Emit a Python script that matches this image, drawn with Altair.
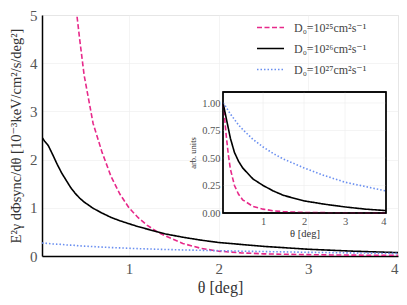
import altair as alt
import pandas as pd

# ---- data ----
series = ["D₀=10²⁵cm²s⁻¹", "D₀=10²⁶cm²s⁻¹", "D₀=10²⁷cm²s⁻¹"]
colors = ["#e7298a", "#000000", "#6a8ff0"]
dashes = [[5, 2.5], [1, 0], [1.5, 2]]

theta = [0.03, 0.06, 0.1, 0.15, 0.2, 0.25, 0.3, 0.35, 0.4, 0.45, 0.5, 0.6, 0.7, 0.8, 0.9, 1.0,
         1.1, 1.2, 1.3, 1.4, 1.6, 1.8, 2.0, 2.25, 2.5, 2.75, 3.0, 3.25, 3.5, 3.75, 4.0]
d25 = [30, 26, 21, 16, 12.3, 9.8, 7.9, 6.5, 5.3, 4.5, 3.75, 2.75, 2.15, 1.65, 1.28, 1.0,
       0.80, 0.64, 0.52, 0.42, 0.26, 0.16, 0.10, 0.065, 0.045, 0.035, 0.028, 0.022, 0.018, 0.015, 0.012]
d26 = [2.46, 2.38, 2.29, 2.1, 1.9, 1.72, 1.57, 1.42, 1.3, 1.2, 1.12, 0.99, 0.89, 0.80, 0.73, 0.67,
       0.61, 0.56, 0.51, 0.46, 0.39, 0.33, 0.28, 0.24, 0.20, 0.17, 0.14, 0.12, 0.10, 0.085, 0.07]
d27 = [0.27, 0.265, 0.26, 0.25, 0.245, 0.24, 0.23, 0.225, 0.22, 0.21, 0.205, 0.195, 0.185, 0.175, 0.168, 0.16,
       0.153, 0.147, 0.141, 0.136, 0.126, 0.118, 0.11, 0.1, 0.092, 0.085, 0.076, 0.07, 0.064, 0.059, 0.054]

inset_theta = [0.02, 0.05, 0.1, 0.15, 0.2, 0.3, 0.4, 0.5, 0.75, 1.0, 1.25, 1.5, 2.0, 2.5, 3.0, 3.5, 4.0]
inset25 = [1.0, 0.9, 0.7, 0.53, 0.4, 0.25, 0.17, 0.12, 0.06, 0.035, 0.02, 0.012, 0.005, 0.003, 0.002, 0.001, 0.001]
inset26 = [1.0, 0.95, 0.86, 0.77, 0.68, 0.55, 0.47, 0.41, 0.31, 0.25, 0.2, 0.16, 0.11, 0.08, 0.055, 0.035, 0.022]
inset27 = [1.0, 0.99, 0.96, 0.93, 0.90, 0.85, 0.80, 0.76, 0.67, 0.60, 0.54, 0.49, 0.41, 0.34, 0.28, 0.24, 0.20]

main_x_ticks = [1, 2, 3, 4]
main_y_ticks = [0, 1, 2, 3, 4, 5]
inset_x_ticks = [1, 2, 3, 4]
inset_y_ticks = [0, 0.25, 0.5, 0.75, 1.0]
inset_x_domain = [0.02, 4]
inset_y_domain = [0, 1.1]

# ---- tables ----
main_df = pd.DataFrame({
    "theta": theta * 3,
    "value": d25 + d26 + d27,
    "series": [series[0]] * len(theta) + [series[1]] * len(theta) + [series[2]] * len(theta),
})
inset_df = pd.DataFrame({
    "theta": inset_theta * 3,
    "value": inset25 + inset26 + inset27,
    "series": [series[0]] * len(inset_theta) + [series[1]] * len(inset_theta) + [series[2]] * len(inset_theta),
})
box_df = pd.DataFrame({"x": [inset_x_domain[0]], "x2": [inset_x_domain[1]],
                       "y": [inset_y_domain[0]], "y2": [inset_y_domain[1]]})
xgrid_df = pd.DataFrame({"g": inset_x_ticks[:-1]})
ygrid_df = pd.DataFrame({"g": inset_y_ticks[1:]})

SERIF = "'Liberation Serif', 'Times New Roman', 'DejaVu Serif', serif"
W, H = 356, 241
INSET_X_RANGE = [181, 344]
INSET_Y_RANGE = [198, 77]

legend = alt.Legend(
    title=None, orient="none", legendX=214, legendY=-2,
    symbolType="stroke", symbolSize=729, symbolStrokeWidth=1.6,
    labelFont=SERIF, labelFontSize=12, labelColor="#444444",
    rowPadding=-9, labelOffset=9,
)
color = alt.Color("series:N", scale=alt.Scale(domain=series, range=colors), legend=legend)
dash = alt.StrokeDash("series:N", scale=alt.Scale(domain=series, range=dashes), legend=legend)

main = alt.Chart(main_df).mark_line(strokeWidth=1.6, clip=True).encode(
    x=alt.X("theta:Q", scale=alt.Scale(domain=[0.03, 4], nice=False, zero=False),
            axis=alt.Axis(title="θ [deg]", values=main_x_ticks, format="d", grid=True,
                          gridColor="#ececec", gridWidth=0.6, ticks=False,
                          labelFont=SERIF, labelFontSize=15, labelColor="#555555", labelPadding=5,
                          titleFont=SERIF, titleFontSize=16, titleFontWeight="normal",
                          titleColor="#333333", titlePadding=3,
                          domainColor="#000000", domainWidth=1.5)),
    y=alt.Y("value:Q", scale=alt.Scale(domain=[0, 5], nice=False),
            axis=alt.Axis(title="E²γ dΦsync/dθ [10⁻³keV/cm²/s/deg²]", values=main_y_ticks,
                          format="d", grid=True, gridColor="#ececec", gridWidth=0.6, ticks=False,
                          labelFont=SERIF, labelFontSize=15, labelColor="#555555", labelPadding=5,
                          titleFont=SERIF, titleFontSize=14.5, titleFontWeight="normal",
                          titleColor="#333333", titlePadding=6,
                          domainColor="#000000", domainWidth=1.5)),
    color=color,
    strokeDash=dash,
    order=alt.Order("series:N", sort="descending"),
)

ix = alt.Scale(domain=inset_x_domain, range=INSET_X_RANGE, nice=False, zero=False)
iy = alt.Scale(domain=inset_y_domain, range=INSET_Y_RANGE, nice=False)

inset_x_axis = alt.Axis(title="θ [deg]", orient="bottom", offset=-(H - INSET_Y_RANGE[0]),
                        values=inset_x_ticks, format="d", grid=False, ticks=False, domain=False,
                        labelFont=SERIF, labelFontSize=10.5, labelColor="#555555", labelPadding=3,
                        titleFont=SERIF, titleFontSize=10.5, titleFontWeight="normal",
                        titleColor="#333333", titlePadding=2, zindex=2)
inset_y_axis = alt.Axis(title="arb. units", orient="left", offset=-INSET_X_RANGE[0],
                        values=inset_y_ticks, format=".2f", grid=False, ticks=False, domain=False,
                        labelFont=SERIF, labelFontSize=10.5, labelColor="#555555", labelPadding=3,
                        titleFont=SERIF, titleFontSize=8.5, titleFontWeight="normal",
                        titleColor="#333333", titlePadding=4, zindex=2)

box = alt.Chart(box_df).mark_rect(fill="white", stroke="black", strokeWidth=1.3).encode(
    x=alt.X("x:Q", scale=ix, axis=inset_x_axis),
    x2="x2:Q",
    y=alt.Y("y:Q", scale=iy, axis=inset_y_axis),
    y2="y2:Q",
)
vgrid = alt.Chart(xgrid_df).mark_rule(color="#ececec", strokeWidth=0.6).encode(
    x=alt.X("g:Q", scale=ix, axis=inset_x_axis),
    y=alt.datum(inset_y_domain[0]),
    y2=alt.datum(inset_y_domain[1]),
)
hgrid = alt.Chart(ygrid_df).mark_rule(color="#ececec", strokeWidth=0.6).encode(
    y=alt.Y("g:Q", scale=iy, axis=inset_y_axis),
    x=alt.datum(inset_x_domain[0]),
    x2=alt.datum(inset_x_domain[1]),
)
inset_lines = alt.Chart(inset_df).mark_line(strokeWidth=1.6, clip=True).encode(
    x=alt.X("theta:Q", scale=ix, axis=inset_x_axis),
    y=alt.Y("value:Q", scale=iy, axis=inset_y_axis),
    color=color,
    strokeDash=dash,
    order=alt.Order("series:N", sort="descending"),
)
frame = alt.Chart(box_df).mark_rect(fill=None, stroke="black", strokeWidth=1.3).encode(
    x=alt.X("x:Q", scale=ix, axis=inset_x_axis),
    x2="x2:Q",
    y=alt.Y("y:Q", scale=iy, axis=inset_y_axis),
    y2="y2:Q",
)
inset = alt.layer(box, vgrid, hgrid, inset_lines, frame)

chart = alt.layer(main, inset).resolve_scale(x="independent", y="independent").properties(
    width=W, height=H,
    autosize=alt.AutoSizeParams(type="none"),
    padding={"left": 34, "top": 7, "right": 1, "bottom": 41},
).configure_view(stroke="black", strokeWidth=1.5).configure(background="white")

chart.save("out.html", embed_options={"renderer": "svg", "actions": False})
